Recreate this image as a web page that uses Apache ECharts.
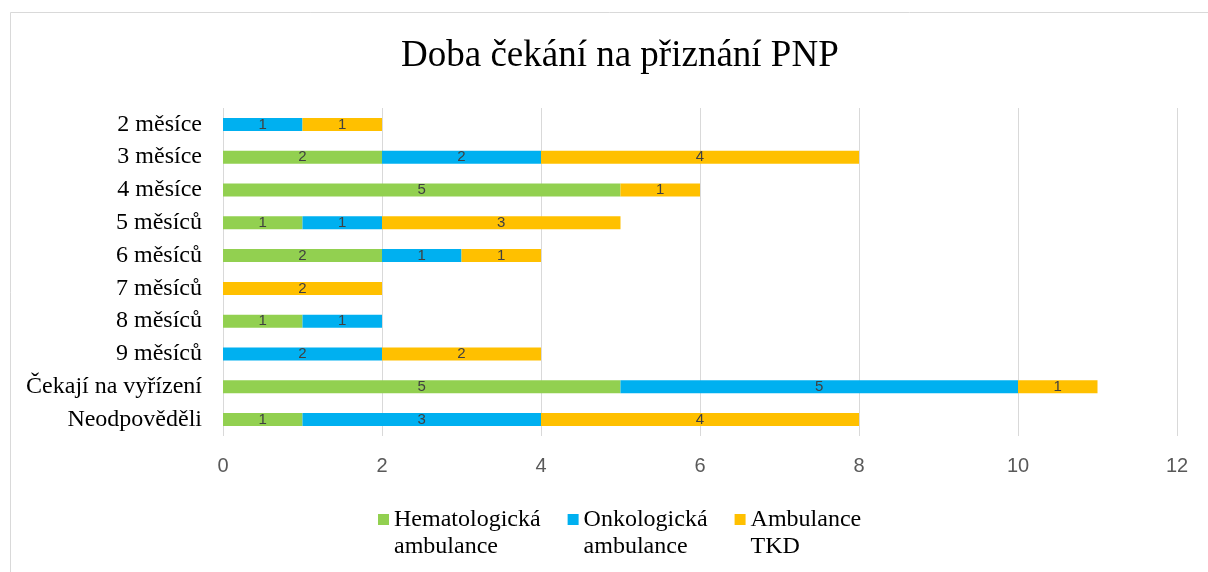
<!DOCTYPE html>
<html>
<head>
<meta charset="utf-8">
<script src="https://cdn.jsdelivr.net/npm/echarts@6/dist/echarts.min.js"></script>
</head>
<body style="margin:0">
<div id="main" style="width: 1208px;height:572px;"></div>
<script type="text/javascript">
    // data, top row first
    var categories = ['2 měsíce', '3 měsíce', '4 měsíce', '5 měsíců', '6 měsíců',
        '7 měsíců', '8 měsíců', '9 měsíců', 'Čekají na vyřízení', 'Neodpověděli'];
    var hematologicka = [0, 2, 5, 1, 2, 0, 1, 0, 5, 1];
    var onkologicka = [1, 2, 0, 1, 1, 0, 1, 2, 5, 3];
    var tkd = [1, 4, 1, 3, 1, 2, 0, 2, 1, 4];
    var seriesNames = ['Hematologická\nambulance', 'Onkologická\nambulance', 'Ambulance\nTKD'];
    var colors = ['#92D050', '#00B0F0', '#FFC000'];

    var serif = '"Liberation Serif", "Times New Roman", serif';
    var narrow = '"Liberation Sans Narrow", "Liberation Sans", sans-serif';

    function makeSeries(name, data, color) {
        return {
            name: name,
            type: 'bar',
            stack: 'total',
            barWidth: 13,
            itemStyle: { color: color },
            label: {
                show: true,
                position: 'inside',
                color: '#404040',
                fontFamily: narrow,
                fontSize: 15,
                formatter: function (p) { return p.value ? p.value : ''; }
            },
            data: data
        };
    }

    var myChart = echarts.init(document.getElementById('main'));
    var option = {
        animation: false,
        backgroundColor: '#fff',
        title: {
            text: 'Doba čekání na přiznání PNP',
            left: 396,
            top: 33,
            textStyle: { fontFamily: serif, fontSize: 37, fontWeight: 'normal', color: '#000' }
        },
        graphic: [{
            type: 'rect',
            shape: { x: 10.5, y: 12.5, width: 1300, height: 700 },
            style: { fill: 'none', stroke: '#d9d9d9', lineWidth: 1 },
            silent: true
        }],
        legend: {
            left: 373,
            top: 474,
            itemWidth: 11,
            itemHeight: 11,
            itemGap: 27,
            icon: 'rect',
            // blank first line keeps the icon level with the first text line
            formatter: function (name) { return ' \n' + name; },
            textStyle: {
                fontFamily: serif,
                fontSize: 24,
                color: '#000',
                lineHeight: 27
            },
            data: seriesNames
        },
        grid: { left: 223, right: 31, top: 108, bottom: 136 },
        xAxis: {
            type: 'value',
            min: 0,
            max: 12,
            interval: 2,
            axisLine: { show: false },
            axisTick: { show: false },
            splitLine: { lineStyle: { color: '#d9d9d9' } },
            axisLabel: { margin: 20, color: '#595959', fontFamily: narrow, fontSize: 20 }
        },
        yAxis: {
            type: 'category',
            inverse: true,
            data: categories,
            axisLine: { show: false },
            axisTick: { show: false },
            axisLabel: { margin: 21, color: '#000', fontFamily: serif, fontSize: 24 }
        },
        series: [
            makeSeries(seriesNames[0], hematologicka, colors[0]),
            makeSeries(seriesNames[1], onkologicka, colors[1]),
            makeSeries(seriesNames[2], tkd, colors[2])
        ]
    };
    myChart.setOption(option);
</script>
</body>
</html>
